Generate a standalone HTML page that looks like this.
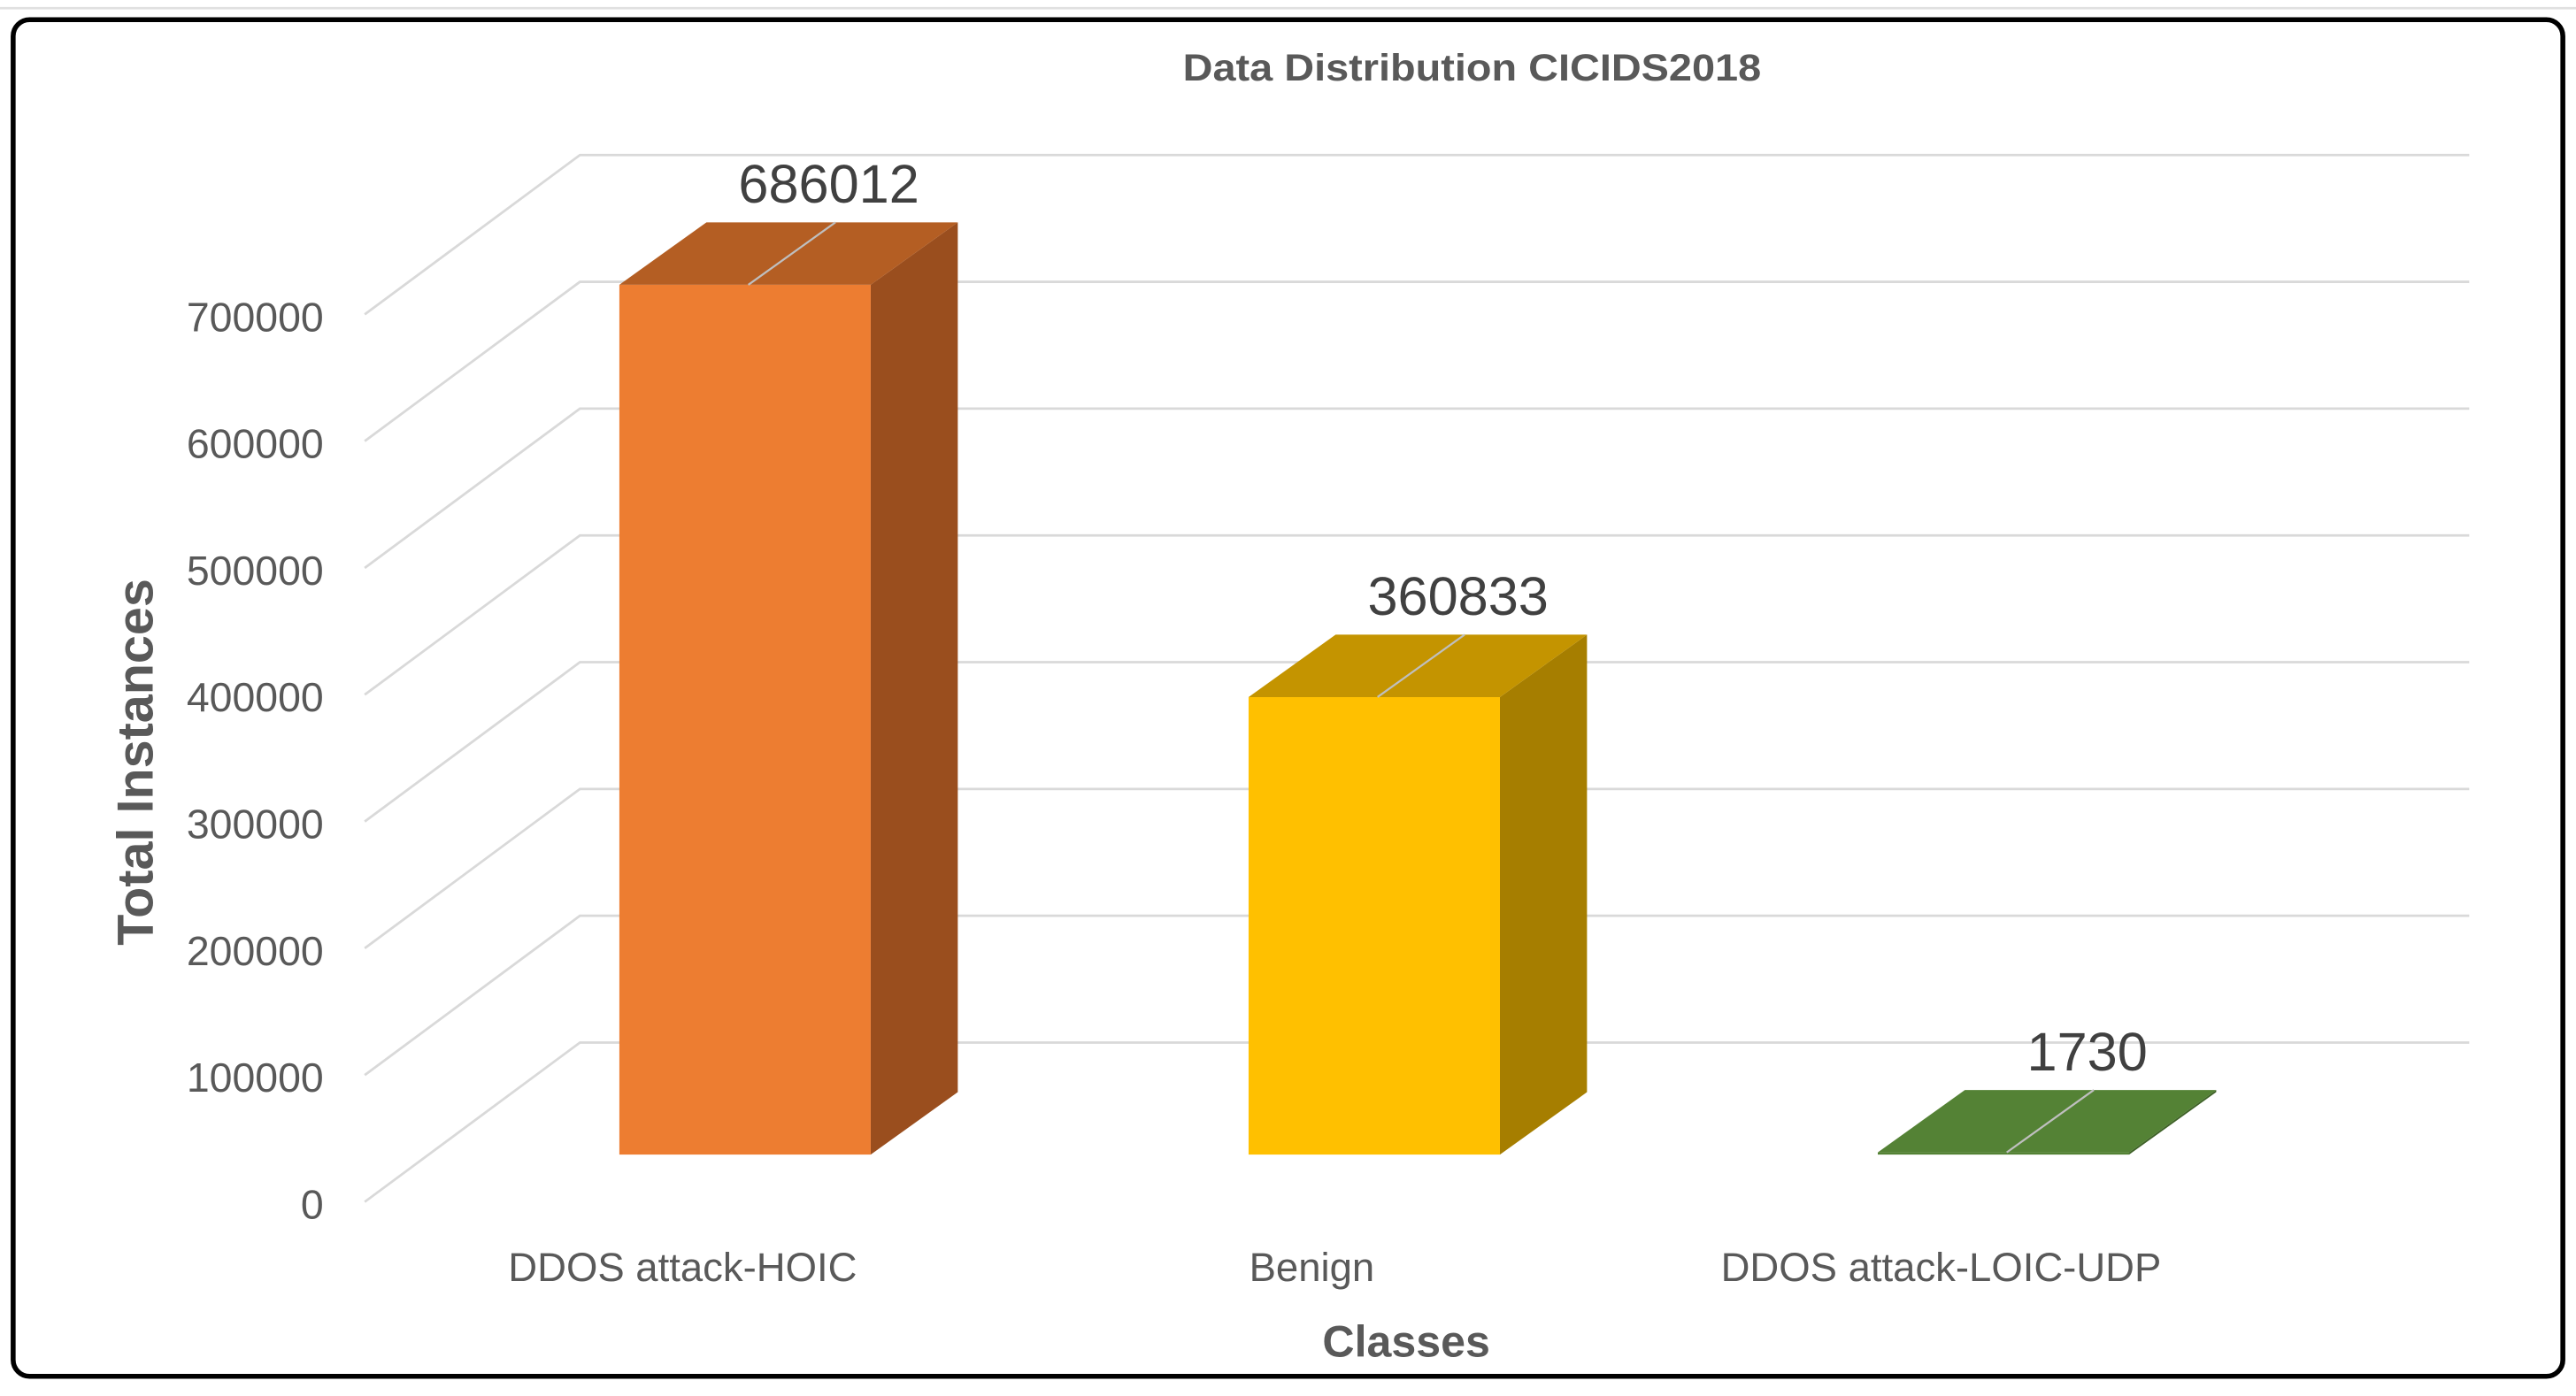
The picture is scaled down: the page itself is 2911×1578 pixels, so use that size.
<!DOCTYPE html>
<html><head><meta charset="utf-8"><style>
html,body{margin:0;padding:0;background:#fff;}
svg{display:block;font-family:"Liberation Sans",sans-serif;}
</style></head><body>
<svg id="chart" width="2911" height="1578" viewBox="0 0 1568 850" preserveAspectRatio="none" xmlns="http://www.w3.org/2000/svg">
<line x1="0" y1="5" x2="1568" y2="5" stroke="#e0e0e0" stroke-width="1.5"/>
<rect x="8" y="12" width="1552" height="826" rx="10" fill="#fff" stroke="#000" stroke-width="3"/>
<text x="896" y="49" text-anchor="middle" font-size="23" font-weight="bold" fill="#595959" textLength="352" lengthAdjust="spacingAndGlyphs">Data Distribution  CICIDS2018</text>
<g id="grid"></g>
<g id="bars"></g>
<text transform="translate(93,464) rotate(-90)" text-anchor="middle" font-size="31" font-weight="bold" fill="#595959">Total Instances</text>
<text x="856" y="826" text-anchor="middle" font-size="27" font-weight="bold" fill="#595959">Classes</text>
</svg>
<script>
const categories = ["DDOS attack-HOIC", "Benign", "DDOS attack-LOIC-UDP"];
const values = [686012, 360833, 1730];
const ticks = [0, 100000, 200000, 300000, 400000, 500000, 600000, 700000];
const frontColors = ["#ED7D31", "#FFC000", "#548235"];
const topColors = ["#B45E23", "#C49400", "#548235"];
const sideColors = ["#9A4E1E", "#A67E00", "#3F6228"];

const NS = "http://www.w3.org/2000/svg";
const pxPer = 77.2 / 100000;
const step = 100000;
const yBack = v => 712 - v * pxPer;
const yFront = v => 703 - v * pxPer;
const xFront = i => 377 + i * 383;
const BW = 153, DX = 53, DY = 38;
function mk(tag, attrs, parent) {
  const e = document.createElementNS(NS, tag);
  for (const k in attrs) e.setAttribute(k, attrs[k]);
  parent.appendChild(e);
  return e;
}
const grid = document.getElementById('grid');
const bars = document.getElementById('bars');
ticks.forEach((t, i) => {
  const yb = yBack(t + step);
  const l = mk('polyline', {points: `222,${yb + 97} 353,${yb} 1503,${yb}`, fill: 'none', stroke: '#d9d9d9', 'stroke-width': 1.5}, grid);
  
  
  const tx = mk('text', {x: 197, y: yBack(t) + 30, 'text-anchor': 'end', 'font-size': 25, fill: '#595959'}, grid);
  tx.textContent = t;
  
  
});
values.forEach((v, i) => {
  const x0 = xFront(i), x1 = x0 + BW, yt = yFront(v), yb = 703;
  const g = mk('g', {}, bars);
  
  
  mk('polygon', {points: `${x1},${yt} ${x1 + DX},${yt - DY} ${x1 + DX},${yb - DY} ${x1},${yb}`, fill: sideColors[i]}, g);
  mk('rect', {x: x0, y: yt, width: BW, height: Math.max(0, yb - yt), fill: frontColors[i]}, g);
  mk('polygon', {points: `${x0},${yt} ${x1},${yt} ${x1 + DX},${yt - DY} ${x0 + DX},${yt - DY}`, fill: topColors[i]}, g);
  const cx = x0 + BW / 2;
  mk('line', {x1: cx + 2, y1: yt, x2: cx + DX + 2, y2: yt - DY, stroke: '#bfbfbf', 'stroke-width': 1.2}, g);
  const lab = mk('text', {x: cx + DX - 2, y: yt - DY - 12, 'text-anchor': 'middle', 'font-size': 33, fill: '#404040'}, bars);
  lab.textContent = v;
  
  
  const cl = mk('text', {x: cx - 38, y: 780, 'text-anchor': 'middle', 'font-size': 24.5, fill: '#595959'}, bars);
  cl.textContent = categories[i];
  
  
});
</script>
</body></html>
